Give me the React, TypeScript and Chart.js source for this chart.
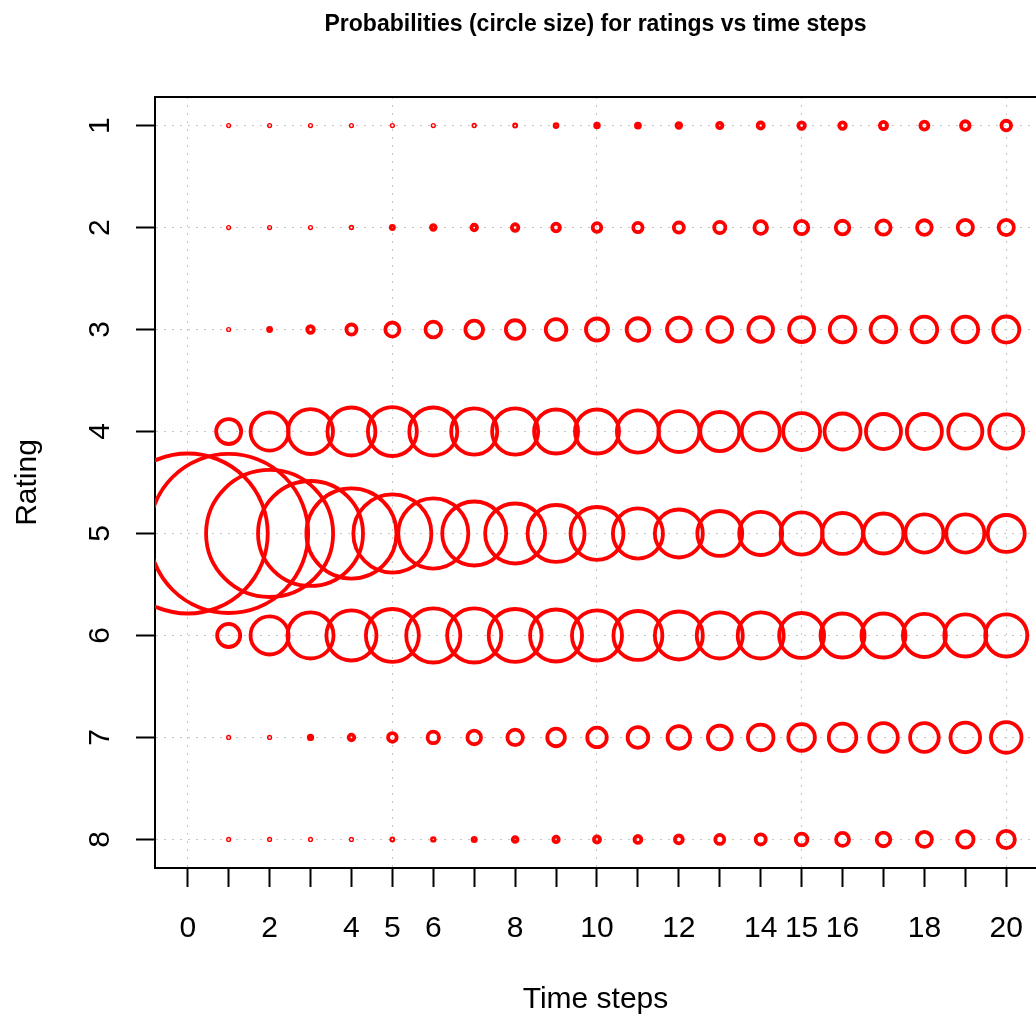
import React, { useEffect, useRef } from 'react';
import { Chart, registerables } from 'chart.js';

Chart.register(...registerables);

// ---- data ----
const timeSteps = [0, 1, 2, 3, 4, 5, 6, 7, 8, 9, 10, 11, 12, 13, 14, 15, 16, 17, 18, 19, 20];
const ratings = [1, 2, 3, 4, 5, 6, 7, 8];
const xTickLabels = [0, 2, 4, 5, 6, 8, 10, 12, 14, 15, 16, 18, 20];

// probability (circle size) per rating, index = time step
const rating1 = [0, 0.004, 0.003, 0.003, 0.003, 0.004, 0.008, 0.010, 0.013, 0.018, 0.023, 0.025, 0.029, 0.033, 0.038, 0.041, 0.041, 0.045, 0.050, 0.054, 0.060];
const rating2 = [0, 0.006, 0.006, 0.006, 0.010, 0.019, 0.029, 0.035, 0.041, 0.048, 0.054, 0.058, 0.063, 0.070, 0.079, 0.083, 0.085, 0.089, 0.091, 0.095, 0.095];
const rating3 = [0, 0.004, 0.019, 0.041, 0.063, 0.088, 0.098, 0.110, 0.116, 0.129, 0.138, 0.141, 0.148, 0.154, 0.154, 0.156, 0.160, 0.160, 0.160, 0.160, 0.163];
const rating4 = [0, 0.156, 0.238, 0.281, 0.300, 0.306, 0.300, 0.288, 0.288, 0.275, 0.275, 0.263, 0.256, 0.244, 0.238, 0.231, 0.225, 0.219, 0.219, 0.213, 0.213];
const rating5 = [1.000, 0.994, 0.794, 0.656, 0.563, 0.488, 0.438, 0.400, 0.375, 0.356, 0.331, 0.313, 0.300, 0.281, 0.269, 0.263, 0.256, 0.250, 0.238, 0.238, 0.231];
const rating6 = [0, 0.144, 0.238, 0.288, 0.313, 0.331, 0.338, 0.338, 0.331, 0.325, 0.313, 0.306, 0.300, 0.288, 0.288, 0.281, 0.275, 0.275, 0.269, 0.263, 0.263];
const rating7 = [0, 0.003, 0.008, 0.022, 0.035, 0.054, 0.072, 0.085, 0.097, 0.110, 0.122, 0.129, 0.141, 0.148, 0.160, 0.166, 0.172, 0.179, 0.179, 0.185, 0.191];
const rating8 = [0, 0.004, 0.004, 0.004, 0.006, 0.013, 0.016, 0.020, 0.030, 0.034, 0.038, 0.043, 0.049, 0.056, 0.063, 0.073, 0.081, 0.085, 0.094, 0.103, 0.108];

const probabilityRows = [rating1, rating2, rating3, rating4, rating5, rating6, rating7, rating8];

const MAX_RADIUS = 80; // pixel radius of a circle with probability 1
const MIN_RADIUS = 0.7; // smallest drawn radius so tiny circles stay visible as dots
const FONT = "'Liberation Sans', Arial, Helvetica, sans-serif";
const GRID = '#c8c8c8';

export default function App() {
  const ref = useRef<HTMLCanvasElement>(null);

  useEffect(() => {
    if (!ref.current) return;
    const points: { x: number; y: number; r: number }[] = [];
    ratings.forEach((rating, i) => {
      probabilityRows[i].forEach((p, t) => {
        if (p > 0) points.push({ x: timeSteps[t], y: rating, r: Math.max(MIN_RADIUS, MAX_RADIUS * p) });
      });
    });

    const topLine = {
      id: 'topLine',
      afterDraw(chart: any) {
        const { ctx, chartArea } = chart;
        ctx.save();
        ctx.strokeStyle = '#000';
        ctx.lineWidth = 2;
        ctx.beginPath();
        ctx.moveTo(chartArea.left - 1, chartArea.top);
        ctx.lineTo(chartArea.right, chartArea.top);
        ctx.stroke();
        ctx.restore();
      },
    };

    const chart = new Chart(ref.current, {
      type: 'bubble',
      data: {
        datasets: [
          {
            data: points,
            borderColor: '#ff0000',
            backgroundColor: 'rgba(0,0,0,0)',
            borderWidth: 3.8,
            clip: 0,
          } as any,
        ],
      },
      options: {
        responsive: false,
        animation: false,
        events: [],
        layout: { padding: 0, autoPadding: false },
        plugins: {
          legend: { display: false },
          tooltip: { enabled: false },
          title: {
            display: true,
            text: 'Probabilities (circle size) for ratings vs time steps',
            fullSize: false,
            color: '#000',
            font: { family: FONT, size: 23, weight: 'bold' },
            padding: { top: 10.5, bottom: 58.9 },
          },
        },
        scales: {
          x: {
            type: 'linear',
            min: -0.8,
            max: 20.727,
            afterBuildTicks: (s: any) => {
              s.ticks = timeSteps.map((v) => ({ value: v }));
            },
            afterFit: (s: any) => {
              s.height = 151;
            },
            ticks: {
              autoSkip: false,
              maxRotation: 0,
              minRotation: 0,
              padding: 2,
              color: '#000',
              font: { family: FONT, size: 30, lineHeight: '80px' },
              callback: (v: any) => (xTickLabels.includes(Number(v)) ? String(v) : ''),
            },
            grid: {
              color: (ctx: any) => (ctx.tick && ctx.tick.value % 5 === 0 ? GRID : 'rgba(0,0,0,0)'),
              lineWidth: 1,
              borderDash: [2, 6],
              tickColor: '#000',
              tickLength: 19,
              tickWidth: 2,
              tickBorderDash: [],
            } as any,
            border: { display: true, color: '#000', width: 2, dash: [2, 6] },
            title: {
              display: true,
              text: 'Time steps',
              color: '#000',
              font: { family: FONT, size: 30 },
              padding: { top: 0, bottom: 1.5 },
            },
          },
          y: {
            type: 'linear',
            reverse: true,
            min: 0.72,
            max: 8.28,
            afterBuildTicks: (s: any) => {
              s.ticks = ratings.map((v) => ({ value: v }));
            },
            afterFit: (s: any) => {
              s.width = 155;
            },
            ticks: {
              color: '#000',
              font: { family: FONT, size: 30 },
              minRotation: 90,
              maxRotation: 90,
              crossAlign: 'center',
              padding: 27,
              callback: (v: any) => String(v),
            },
            grid: {
              color: GRID,
              lineWidth: 1,
              borderDash: [2, 6],
              tickColor: '#000',
              tickLength: 19,
              tickWidth: 2,
              tickBorderDash: [],
            } as any,
            border: { display: true, color: '#000', width: 2, dash: [2, 6] },
            title: {
              display: true,
              text: 'Rating',
              color: '#000',
              font: { family: FONT, size: 30 },
              padding: { top: 10, bottom: 0 },
            },
          },
        },
      },
      plugins: [topLine],
    } as any);

    return () => chart.destroy();
  }, []);

  return (
    <div style={{ position: 'absolute', left: 0, top: 0, width: 1036, height: 1019, background: '#fff' }}>
      <canvas ref={ref} width={1036} height={1019} style={{ display: 'block' }} />
    </div>
  );
}
